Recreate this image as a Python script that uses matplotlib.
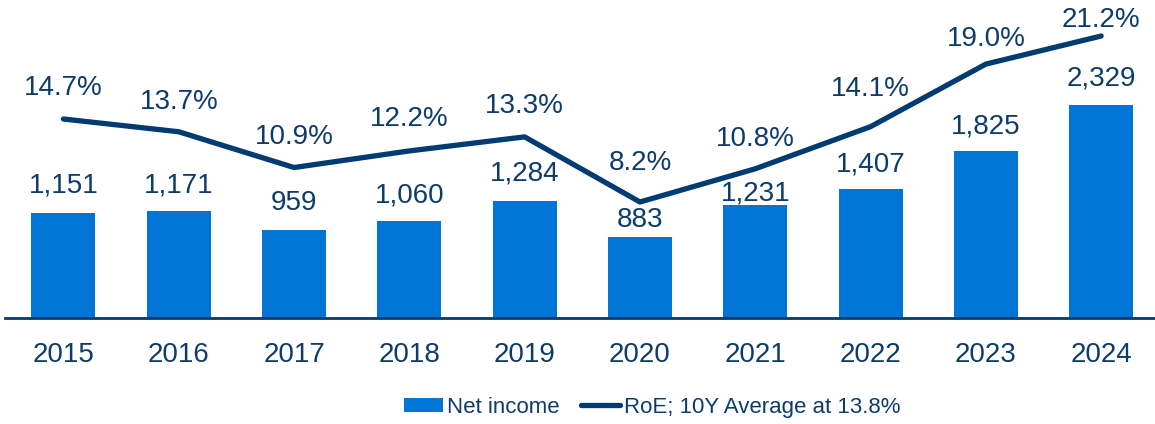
import numpy as np
import matplotlib.pyplot as plt

# Data
years = ["2015", "2016", "2017", "2018", "2019", "2020", "2021", "2022", "2023", "2024"]
net_income = [1151, 1171, 959, 1060, 1284, 883, 1231, 1407, 1825, 2329]
roe = [14.7, 13.7, 10.9, 12.2, 13.3, 8.2, 10.8, 14.1, 19.0, 21.2]

# label offsets above the marks (pixels), hand tuned like the original
bar_label_off = [20, 18, 20, 19, 20, 10, 5, 18, 18, 19]
roe_label_off = [24, 23, 24, 25, 24, 32, 23, 31, 18, 9]

BAR_COLOR = "#0075D5"
LINE_COLOR = "#003B71"
TEXT_COLOR = "#0D3C6B"

plt.rcParams["font.family"] = ["Liberation Sans", "DejaVu Sans"]


def main():
    fig = plt.figure(figsize=(11.55, 4.24), dpi=100)
    ax = fig.add_axes([5 / 1155, 0.25, 1150 / 1155, 0.75])
    ax2 = ax.twinx()

    x = np.arange(len(years))

    # Net income bars (left axis, hidden)
    bars = ax.bar(x, net_income, width=0.555, color=BAR_COLOR, zorder=2)
    for xi, v, off in zip(x, net_income, bar_label_off):
        ax.annotate(f"{v:,}", (xi, v), xytext=(0, off), textcoords="offset pixels",
                    ha="center", va="baseline", fontsize=20, color=TEXT_COLOR)

    # RoE line (right axis, hidden)
    line, = ax2.plot(x, roe, color=LINE_COLOR, linewidth=3.8, solid_capstyle="round",
                     zorder=3)
    for xi, v, off in zip(x, roe, roe_label_off):
        ax2.annotate(f"{v:.1f}%", (xi, v), xytext=(0, off), textcoords="offset pixels",
                     ha="center", va="baseline", fontsize=20, color=TEXT_COLOR)

    ax.set_xlim(-0.507, 9.467)
    ax.set_ylim(0, 3476)
    ax2.set_ylim(-0.885, 24.02)

    for a in (ax, ax2):
        for side in ("left", "right", "top"):
            a.spines[side].set_visible(False)
        a.set_yticks([])
    ax2.spines["bottom"].set_visible(False)
    ax.spines["bottom"].set_color(LINE_COLOR)
    ax.spines["bottom"].set_linewidth(2)

    ax.set_xticks(x)
    ax.set_xticklabels(years, fontsize=20, color=TEXT_COLOR)
    ax.tick_params(axis="x", length=0, pad=17)

    fig.legend([bars, line], ["Net income", "RoE; 10Y Average at 13.8%"],
               loc="center", bbox_to_anchor=(0.5645, 0.04), ncol=2, frameon=False,
               fontsize=16, labelcolor=TEXT_COLOR, handlelength=1.75,
               handletextpad=0.18, columnspacing=0.95, handleheight=0.6)

    fig.savefig("out.png", dpi=100)


if __name__ == "__main__":
    main()
